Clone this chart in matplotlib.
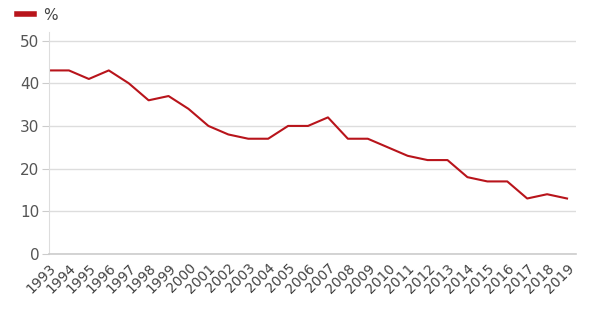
import matplotlib.pyplot as plt
from matplotlib.lines import Line2D

years = list(range(1993, 2020))
values = [43, 43, 41, 43, 40, 36, 37, 34, 30, 28, 27, 27, 30, 30, 32,
          27, 27, 25, 23, 22, 22, 18, 17, 17, 13, 14, 13]
y_ticks = [0, 10, 20, 30, 40, 50]
series_name = '%'

red = '#b8141b'

fig = plt.figure(figsize=(5.91, 3.11), dpi=100)
ax = fig.add_axes([49 / 591, 1 - 254 / 311, (576 - 49) / 591, (254 - 32) / 311])

ax.plot(years, values, color=red, linewidth=1.5)

# axes look
ax.set_xlim(1993, 2019.45)
ax.set_ylim(0, 52)
ax.set_yticks(y_ticks)
ax.set_xticks(years)
ax.set_xticklabels([str(y) for y in years], rotation=45, ha='right',
                   rotation_mode='anchor', fontsize=10, color='#444444')
ax.tick_params(axis='x', length=0, pad=5)
ax.tick_params(axis='y', length=5, width=0.8, color='#cccccc',
               labelsize=11, labelcolor='#555555', pad=2)
ax.grid(axis='y', color='#dddddd', linewidth=1)
ax.set_axisbelow(True)
for s in ['top', 'right']:
    ax.spines[s].set_visible(False)
ax.spines['left'].set_color('#dddddd')
ax.spines['bottom'].set_color('#cccccc')
ax.spines['bottom'].set_linewidth(1.2)

# legend
handle = Line2D([], [], color=red, linewidth=4)
fig.legend([handle], [series_name], loc='upper left', bbox_to_anchor=(0.005, 1.02),
           frameon=False, handlelength=1.1, handletextpad=0.6, fontsize=11,
           labelcolor='#444444')

plt.savefig('out.png', dpi=100)
